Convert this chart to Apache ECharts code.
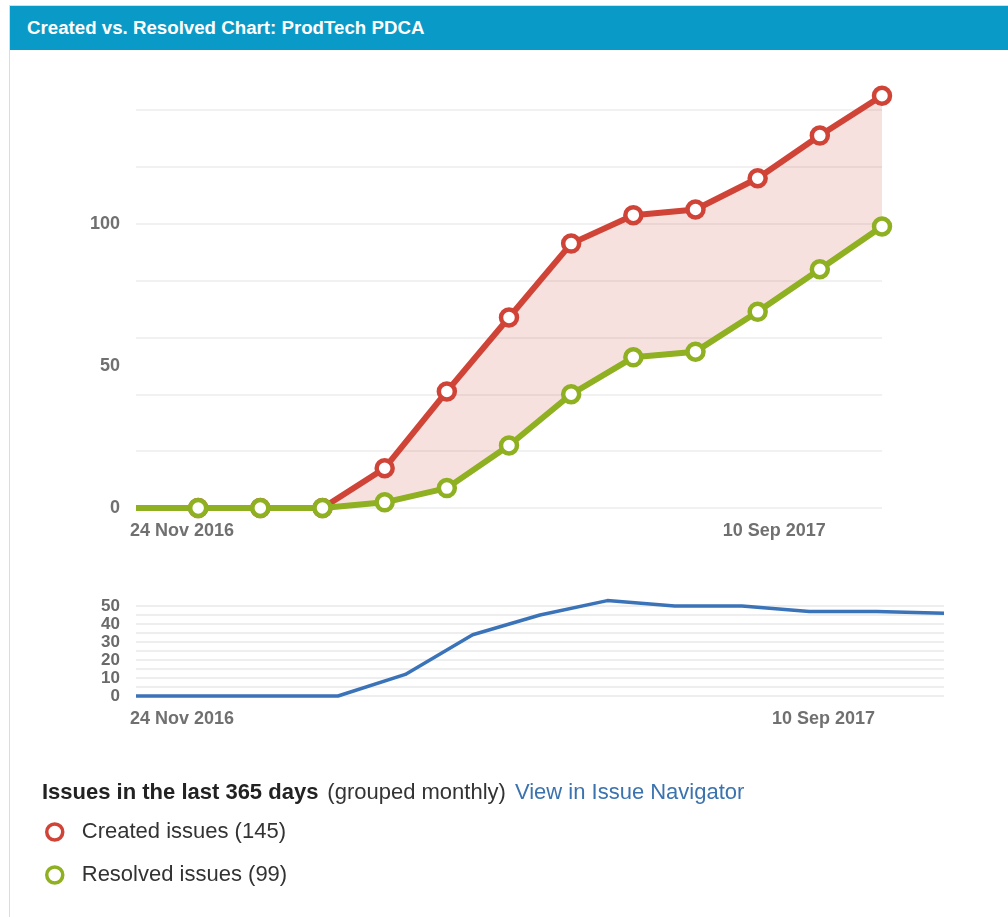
<!DOCTYPE html>
<html>
<head>
<meta charset="utf-8">
<script src="https://cdn.jsdelivr.net/npm/echarts@6/dist/echarts.min.js"></script>
<style>
  html, body { margin: 0; padding: 0; background: #fff; }
  #panel { position: absolute; left: 9px; top: 5px; width: 1010px; height: 930px; border: 1px solid #dcdcdc; }
  #head { position: absolute; left: 10px; top: 6px; width: 1000px; height: 44px; background: #0a9ac7;
          color: #fff; font: bold 18.7px "Liberation Sans", Arial, sans-serif; line-height: 44px; padding-left: 17px; z-index: 2; }
  #chart { position: absolute; left: 0; top: 0; width: 1008px; height: 917px; z-index: 1; }
</style>
</head>
<body>
<div id="panel"></div>
<div id="head">Created vs. Resolved Chart: ProdTech PDCA</div>
<div id="chart"></div>
<script>
// monthly buckets, last 365 days
var months = ['Nov 2016', 'Dec 2016', 'Jan 2017', 'Feb 2017', 'Mar 2017', 'Apr 2017', 'May 2017',
              'Jun 2017', 'Jul 2017', 'Aug 2017', 'Sep 2017', 'Oct 2017', 'Nov 2017'];
// cumulative counts
var created  = [0, 0, 0, 0, 14, 41, 67, 93, 103, 105, 116, 131, 145];
var resolved = [0, 0, 0, 0, 2, 7, 22, 40, 53, 55, 69, 84, 99];
// created minus resolved (lower chart)
var openIssues = [0, 0, 0, 0, 12, 34, 45, 53, 50, 50, 47, 47, 46];

// date tick labels (days from start of range)
var dateTickDays = [0, 290];
var dateTickLabels = ['24 Nov 2016', '10 Sep 2017'];
var mainLabels = [0, 50, 100];
var smallLabels = [0, 10, 20, 30, 40, 50];

var RED = '#d04437', GREEN = '#8eb021', BLUE = '#3b73b9';
var FONT = '"Liberation Sans", Arial, sans-serif';

var chart = echarts.init(document.getElementById('chart'));

// point data; first point has no marker
function pts(arr) {
    return arr.map(function (v, i) {
        return i === 0 ? { value: v, symbol: 'none' } : v;
    });
}
var gap = created.map(function (v, i) { return v - resolved[i]; });

function dateLabelAxis(gridIndex, margin) {
    return {
        type: 'value', gridIndex: gridIndex, position: 'bottom', min: 0, max: 365,
        axisLine: { show: false }, axisTick: { show: false }, splitLine: { show: false },
        axisLabel: {
            customValues: dateTickDays,
            formatter: function (v) { return dateTickLabels[dateTickDays.indexOf(v)] || ''; },
            align: 'left', margin: margin, padding: [0, 0, 0, -6],
            color: '#707070', fontWeight: 'bold', fontSize: 18, fontFamily: FONT
        }
    };
}

var option = {
    animation: false,
    grid: [
        { left: 136, top: 110, width: 746, height: 398 },
        { left: 136, top: 606, width: 808, height: 90 }
    ],
    xAxis: [
        { type: 'category', gridIndex: 0, data: months, boundaryGap: false, show: false },
        dateLabelAxis(0, 14),
        { type: 'category', gridIndex: 1, data: months, boundaryGap: false, show: false },
        dateLabelAxis(1, 14)
    ],
    yAxis: [
        {
            type: 'value', gridIndex: 0, min: 0, max: 140, interval: 20,
            axisLine: { show: false }, axisTick: { show: false },
            splitLine: { lineStyle: { color: '#ececec', width: 1.5 } },
            axisLabel: { customValues: mainLabels, margin: 16, color: '#707070', fontWeight: 'bold', fontSize: 18, fontFamily: FONT }
        },
        {
            type: 'value', gridIndex: 1, min: 0, max: 50, interval: 5,
            axisLine: { show: false }, axisTick: { show: false },
            splitLine: { lineStyle: { color: '#e8e8e8', width: 1.5 } },
            axisLabel: { customValues: smallLabels, margin: 16, color: '#6a6a6a', fontWeight: 'bold', fontSize: 17, lineHeight: 14, fontFamily: FONT }
        }
    ],
    legend: {
        orient: 'vertical', left: 40, top: 816, itemGap: 21,
        itemWidth: 16, itemHeight: 16, icon: 'circle',
        selectedMode: false,
        textStyle: { color: '#333', fontSize: 22, fontFamily: FONT, padding: [0, 0, 0, 14] },
        data: [
            { name: 'Created issues (145)', itemStyle: { color: '#fff', borderColor: RED, borderWidth: 3.5 } },
            { name: 'Resolved issues (99)', itemStyle: { color: '#fff', borderColor: GREEN, borderWidth: 3.5 } }
        ]
    },
    graphic: [{
        type: 'text', left: 42, top: 782,
        style: {
            text: '{b|Issues in the last 365 days}{n|(grouped monthly)}{l|View in Issue Navigator}',
            rich: {
                b: { fontWeight: 'bold', fontSize: 22, fill: '#222', fontFamily: FONT },
                n: { fontSize: 22, fill: '#333', fontFamily: FONT, padding: [0, 0, 0, 9] },
                l: { fontSize: 22, fill: '#3b73af', fontFamily: FONT, padding: [0, 0, 0, 9] }
            }
        }
    }],
    series: [
        {   // invisible base for the shaded gap
            type: 'line', xAxisIndex: 0, yAxisIndex: 0, stack: 'gap', data: resolved,
            symbol: 'none', lineStyle: { opacity: 0 }, silent: true, clip: false, z: 1
        },
        {
            type: 'line', xAxisIndex: 0, yAxisIndex: 0, stack: 'gap', data: gap,
            symbol: 'none', lineStyle: { opacity: 0 }, silent: true, clip: false, z: 1,
            areaStyle: { color: 'rgba(208,68,55,0.16)', opacity: 1 }
        },
        {
            name: 'Created issues (145)', type: 'line', xAxisIndex: 0, yAxisIndex: 0, data: pts(created),
            symbol: 'circle', symbolSize: 16, clip: false, z: 3,
            lineStyle: { color: RED, width: 6 },
            itemStyle: { color: '#fff', borderColor: RED, borderWidth: 4.5 }
        },
        {
            name: 'Resolved issues (99)', type: 'line', xAxisIndex: 0, yAxisIndex: 0, data: pts(resolved),
            symbol: 'circle', symbolSize: 16, clip: false, z: 4,
            lineStyle: { color: GREEN, width: 6 },
            itemStyle: { color: '#fff', borderColor: GREEN, borderWidth: 4.5 }
        },
        {
            name: 'open', type: 'line', xAxisIndex: 2, yAxisIndex: 1, data: openIssues,
            symbol: 'none', clip: false,
            lineStyle: { color: BLUE, width: 3.5 }
        }
    ]
};
chart.setOption(option);
</script>
</body>
</html>
